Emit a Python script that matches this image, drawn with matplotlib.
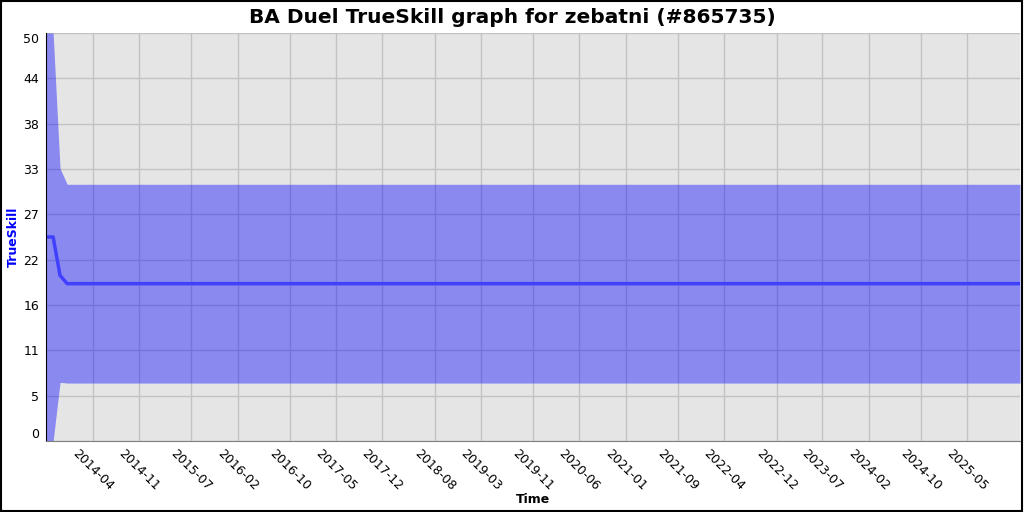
import numpy as np
import matplotlib.pyplot as plt
import matplotlib.dates as mdates
from datetime import datetime

# match dates and rating history
dates = ["2013-08-27", "2013-09-29", "2013-10-31", "2013-12-03", "2026-01-01"]
mu = [25.0, 25.0, 20.3, 19.28, 19.28]
sigma = [8.333, 8.333, 4.37, 4.06, 4.06]

tick_labels = ["2014-04", "2014-11", "2015-07", "2016-02", "2016-10", "2017-05",
               "2017-12", "2018-08", "2019-03", "2019-11", "2020-06", "2021-01",
               "2021-09", "2022-04", "2022-12", "2023-07", "2024-02", "2024-10",
               "2025-05"]
y_ticks = np.linspace(0, 50, 10)

x = mdates.date2num([datetime.strptime(d, "%Y-%m-%d") for d in dates])
mu = np.array(mu)
sigma = np.array(sigma)

fig = plt.figure(figsize=(10.24, 5.12), dpi=100)
ax = fig.add_axes([46/1024, 1 - 441/512, 974/1024, 408/512])
ax.set_facecolor("#e5e5e5")
ax.set_axisbelow(True)
ax.grid(True, color="#c2c2c2", linewidth=1)

ax.fill_between(x, mu - 3*sigma, mu + 3*sigma, color="blue", alpha=0.4, linewidth=0)
ax.plot(x, mu, color="#4040ff", linewidth=2.5)

ax.set_xlim(x[0], x[-1])
ax.set_ylim(0, 50)

xt = mdates.date2num([datetime.strptime(t + "-01", "%Y-%m-%d") for t in tick_labels])
ax.set_xticks(xt)
ax.set_xticklabels(tick_labels, rotation=-45, ha="center", fontsize=9)
ax.set_yticks(y_ticks)
ylabs = ax.set_yticklabels([str(int(v)) for v in y_ticks], fontsize=9)
ylabs[0].set_verticalalignment("bottom")
ylabs[-1].set_verticalalignment("top")
ax.tick_params(axis="x", length=0, pad=4)
ax.tick_params(axis="y", length=0, pad=5)

ax.spines["top"].set_visible(False)
ax.spines["right"].set_visible(False)
ax.spines["left"].set_color("black")
ax.spines["bottom"].set_color("#808080")

ax.set_ylabel("TrueSkill", color="blue", fontweight="bold", fontsize=9, labelpad=2)
ax.set_xlabel("Time", fontweight="bold", fontsize=9, labelpad=0)
fig.suptitle("BA Duel TrueSkill graph for zebatni (#865735)", fontweight="bold",
             fontsize=14.5, y=0.984)

fig.patches.append(plt.Rectangle((0.0005, 0.001), 0.998, 0.997, transform=fig.transFigure,
                                 fill=False, edgecolor="black", linewidth=1.5))

plt.savefig("out.png", dpi=100)
